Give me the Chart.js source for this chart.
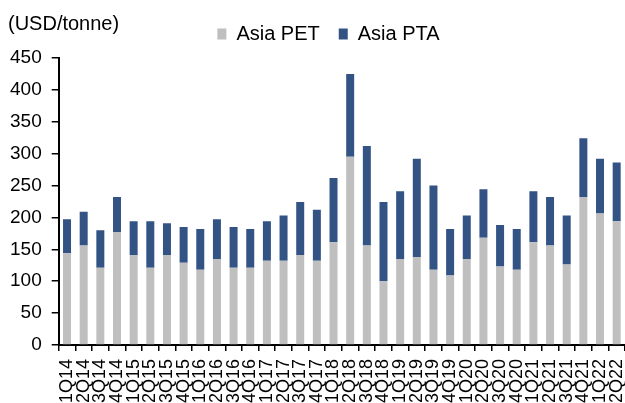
<!DOCTYPE html>
<html>
<head>
<meta charset="utf-8">
<script src="https://cdn.jsdelivr.net/npm/chart.js@4"></script>
<style>
  html, body { margin: 0; padding: 0; background: #fff; overflow: hidden; }
  #wrap { width: 625px; height: 403px; position: relative; overflow: hidden; }
</style>
</head>
<body>
<div id="wrap"><canvas id="myChart" width="625" height="411"></canvas></div>
<script>
let quarters = ["1Q14","2Q14","3Q14","4Q14","1Q15","2Q15","3Q15","4Q15","1Q16","2Q16","3Q16","4Q16",
  "1Q17","2Q17","3Q17","4Q17","1Q18","2Q18","3Q18","4Q18","1Q19","2Q19","3Q19","4Q19",
  "1Q20","2Q20","3Q20","4Q20","1Q21","2Q21","3Q21","4Q21","1Q22","2Q22"];
let asiaPET = [144,156,121,177,141,121,141,129,118,135,121,121,132,132,141,132,161,295,156,100,135,138,118,109,135,168,123,118,161,156,126,232,206,194];
let asiaPTA = [53,53,59,55,53,73,50,56,64,62,64,61,62,71,83,80,101,130,156,124,106,154,132,73,68,76,65,64,80,76,77,92,86,92];
let yTicks = [0,50,100,150,200,250,300,350,400,450];
let unitLabel = "(USD/tonne)";

let fontName = "Arial, 'Liberation Sans', sans-serif";

// unit text top left + nudge legend to where the reference has it
let unitPlugin = {
  id: "unitText",
  afterLayout: function (chart) {
    let lg = chart.legend;
    lg.left += 16; lg.right += 16;
    lg.top -= 4; lg.bottom -= 4;
  },
  afterDraw: function (chart) {
    let c = chart.ctx;
    c.save();
    c.font = "20px " + fontName;
    c.fillStyle = "#000";
    c.textBaseline = "middle";
    c.textAlign = "left";
    c.fillText(unitLabel, 8, 24);
    c.restore();
  }
};

let ctx = document.getElementById('myChart').getContext('2d');

const myChart = new Chart(ctx, {
  type: 'bar',
  data: {
    labels: quarters,
    datasets: [{
      label: 'Asia PET',
      data: asiaPET,
      backgroundColor: '#bfbfbf',
      borderWidth: 0
    }, {
      label: 'Asia PTA',
      data: asiaPTA,
      backgroundColor: '#335385',
      borderWidth: 0
    }]
  },
  options: {
    responsive: false,
    animation: false,
    layout: { padding: { top: 9, left: 0, right: 0, bottom: 0 } },
    datasets: { bar: { barPercentage: 0.48, categoryPercentage: 1 } },
    plugins: {
      tooltip: { enabled: false },
      legend: {
        position: 'top',
        labels: {
          boxWidth: 9,
          boxHeight: 11,
          padding: 19,
          color: '#000',
          font: { family: fontName, size: 20 }
        }
      }
    },
    scales: {
      x: {
        stacked: true,
        afterFit: function (scale) { scale.paddingRight = 0; scale.paddingLeft = 0; },
        border: { color: '#000', width: 2 },
        grid: { display: true, drawOnChartArea: false, drawTicks: true, tickLength: 6, color: '#000', lineWidth: 1.5 },
        ticks: {
          autoSkip: false,
          minRotation: 90,
          maxRotation: 90,
          padding: 8,
          color: '#000',
          font: { family: fontName, size: 18 }
        }
      },
      y: {
        stacked: true,
        min: 0,
        max: 450,
        afterBuildTicks: function (scale) { scale.ticks = yTicks.map(v => ({ value: v })); },
        border: { color: '#000', width: 2 },
        grid: { display: true, drawOnChartArea: false, drawTicks: true, tickLength: 7, color: '#000', lineWidth: 1.5 },
        ticks: {
          padding: 10,
          color: '#000',
          font: { family: fontName, size: 19 }
        }
      }
    }
  },
  plugins: [unitPlugin]
});
</script>
</body>
</html>
